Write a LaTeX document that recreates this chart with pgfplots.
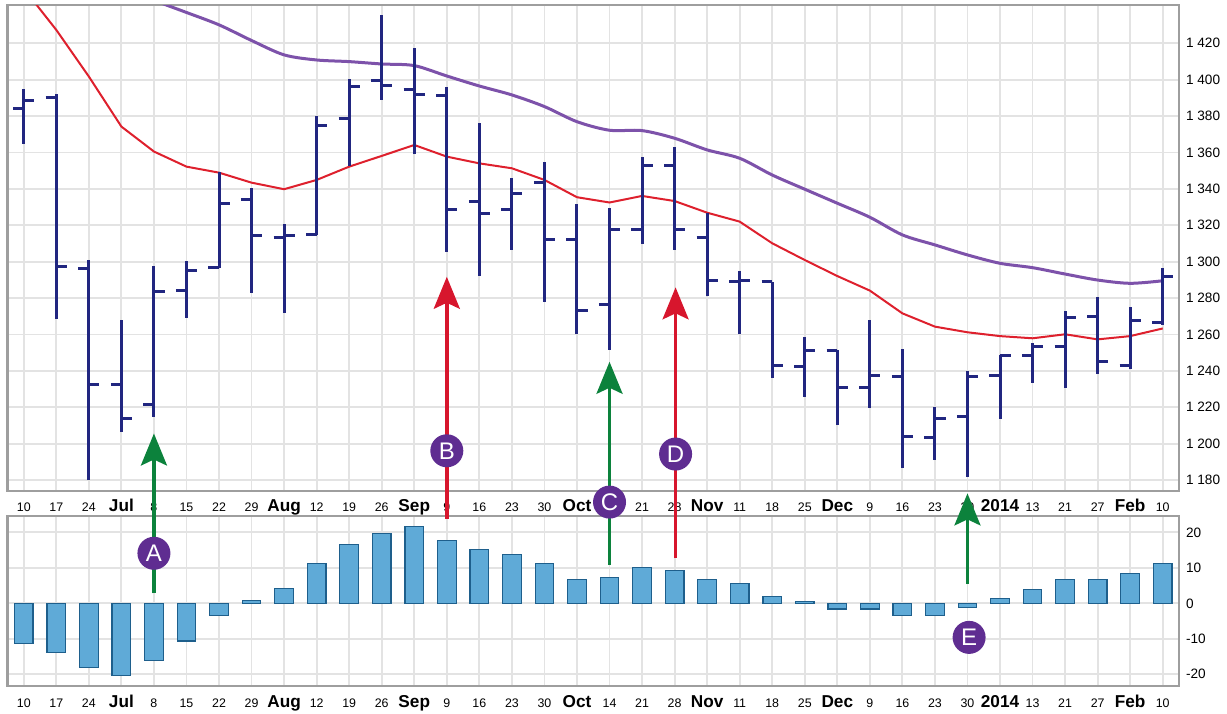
\documentclass[border=0pt]{standalone}
\usepackage{fontspec}
\setmainfont{Liberation Sans}
\usepackage{pgfplots}
\pgfplotsset{compat=1.18}
\usepackage{pgfplotstable}
\usetikzlibrary{arrows.meta}

\definecolor{ohlccol}{RGB}{33,38,128}
\definecolor{maredcol}{RGB}{222,32,45}
\definecolor{mapurcol}{RGB}{125,82,170}
\definecolor{histfill}{RGB}{95,170,215}
\definecolor{histedge}{RGB}{30,95,140}
\definecolor{arrgreen}{RGB}{12,130,60}
\definecolor{arrred}{RGB}{215,22,45}
\definecolor{circcol}{RGB}{95,45,145}

\pgfdeclareplotmark{opentick}{\pgfpathmoveto{\pgfqpoint{-5.3pt}{0pt}}\pgfpathlineto{\pgfqpoint{0pt}{0pt}}\pgfusepathqstroke}
\pgfdeclareplotmark{closetick}{\pgfpathmoveto{\pgfqpoint{0pt}{0pt}}\pgfpathlineto{\pgfqpoint{5.3pt}{0pt}}\pgfusepathqstroke}

\newcommand{\M}[1]{{\fontsize{8.6}{9}\selectfont\bfseries #1}}

\pgfplotstableread{
x o h l c
0 1383.9 1394.7 1364.7 1388.5
1 1390.1 1392.2 1268.3 1297.2
2 1296.1 1300.9 1180.0 1232.6
3 1232.6 1267.9 1206.6 1213.9
4 1221.8 1297.6 1214.8 1283.5
5 1284.0 1300.5 1268.8 1295.4
6 1296.7 1349.5 1296.3 1332.1
7 1333.9 1340.3 1282.6 1314.3
8 1313.4 1320.7 1272.0 1314.3
9 1314.7 1380.1 1314.7 1374.7
10 1378.4 1400.4 1352.8 1396.2
11 1399.3 1435.6 1388.9 1396.9
12 1394.7 1417.3 1359.2 1391.6
13 1391.2 1395.8 1305.1 1328.4
14 1333.3 1376.0 1292.1 1326.6
15 1328.4 1345.8 1306.4 1337.6
16 1343.6 1354.6 1278.0 1312.3
17 1312.3 1331.7 1260.1 1273.4
18 1276.5 1329.3 1251.4 1317.4
19 1317.4 1357.7 1309.7 1352.8
20 1352.8 1362.8 1306.4 1317.4
21 1313.4 1326.6 1281.1 1289.9
22 1289.0 1295.0 1260.2 1289.9
23 1289.0 1289.0 1235.9 1243.2
24 1242.3 1258.4 1225.4 1251.4
25 1251.4 1251.4 1210.2 1230.7
26 1230.7 1267.9 1219.4 1237.7
27 1237.1 1252.0 1186.4 1203.8
28 1203.4 1219.9 1191.0 1213.9
29 1214.8 1240.1 1181.8 1236.8
30 1237.7 1248.7 1213.3 1248.3
31 1248.7 1255.5 1233.5 1253.3
32 1253.3 1273.1 1230.7 1269.4
33 1270.1 1280.8 1238.2 1245.4
34 1243.2 1275.3 1240.8 1267.4
35 1266.6 1296.3 1265.2 1291.7
}\ohlc

\pgfplotstableread{
x ma
0 1450.0
1 1427.3
2 1401.7
3 1374.2
4 1360.5
5 1352.2
6 1348.9
7 1343.4
8 1339.8
9 1344.9
10 1352.2
11 1358.1
12 1364.1
13 1357.7
14 1354.0
15 1351.3
16 1344.9
17 1335.4
18 1332.5
19 1336.1
20 1333.3
21 1326.9
22 1322.0
23 1310.1
24 1300.9
25 1292.1
26 1284.1
27 1271.6
28 1264.3
29 1261.2
30 1259.1
31 1257.9
32 1260.1
33 1257.3
34 1259.1
35 1263.3
}\mared

\pgfplotstableread{
x ma
4 1443.5
5 1436.9
6 1430.1
7 1421.5
8 1413.6
9 1410.8
10 1409.9
11 1408.6
12 1407.7
13 1402.0
14 1396.5
15 1391.6
16 1385.2
17 1376.9
18 1372.2
19 1372.0
20 1367.8
21 1361.4
22 1356.8
23 1347.6
24 1339.8
25 1332.1
26 1324.4
27 1314.7
28 1309.2
29 1303.7
30 1299.1
31 1296.7
32 1293.2
33 1289.9
34 1288.1
35 1289.5
}\mapur

\pgfplotstableread{
x v
0 -11.3
1 -13.9
2 -18.0
3 -20.4
4 -16.0
5 -10.6
6 -3.5
7 0.8
8 4.2
9 11.2
10 16.5
11 19.7
12 21.6
13 17.8
14 15.1
15 13.8
16 11.2
17 6.8
18 7.3
19 10.2
20 9.2
21 6.8
22 5.5
23 1.9
24 0.6
25 -1.6
26 -1.6
27 -3.5
28 -3.5
29 -1.1
30 1.4
31 3.8
32 6.6
33 6.6
34 8.3
35 11.2
}\hist

\pgfplotsset{panel/.style={
  scale only axis, width=585.75pt, anchor=north west,
  xmin=-0.5, xmax=35.5,
  xtick={0,...,35},
  xticklabels={10,17,24,\M{Jul},8,15,22,29,\M{Aug},12,19,26,\M{Sep},9,16,23,30,\M{Oct},14,21,28,\M{Nov},11,18,25,\M{Dec},9,16,23,30,\M{2014},13,21,27,\M{Feb},10},
  grid=major, major grid style={draw=black!11, line width=0.9pt},
  axis line style={draw=black!38, line width=1.2pt},
  tick style={draw=none},
  yticklabel pos=right,
  xticklabel style={font=\fontsize{6.2}{7}\selectfont, anchor=base, yshift=-10pt, inner sep=0.5pt},
  yticklabel style={font=\fontsize{6.8}{7}\selectfont},
}}

\begin{document}
\begin{tikzpicture}
\begin{axis}[panel, at={(3.75pt,-2.5pt)}, height=243pt,
  ymin=1174, ymax=1441,
  ytick={1180,1200,...,1420},
  yticklabels={1 180,1 200,1 220,1 240,1 260,1 280,1 300,1 320,1 340,1 360,1 380,1 400,1 420}]
\addplot[maredcol, line width=1pt] table[x=x,y=ma]{\mared};
\addplot[mapurcol, line width=1.5pt, smooth] table[x=x,y=ma]{\mapur};
\addplot[ohlccol, only marks, mark=closetick, mark options={line width=1.5pt, ohlccol},
  error bars/.cd, y dir=both, y explicit, error mark=none,
  error bar style={line width=1.5pt, ohlccol}]
  table[x=x, y=c, y error plus expr=\thisrow{h}-\thisrow{c}, y error minus expr=\thisrow{c}-\thisrow{l}]{\ohlc};
\addplot[ohlccol, only marks, mark=opentick, mark options={line width=1.5pt, ohlccol}] table[x=x,y=o]{\ohlc};
\coordinate (Atip) at (axis cs:4,1205.6);
\coordinate (Btip) at (axis cs:13,1291.7);
\coordinate (Ctip) at (axis cs:18,1245.0);
\coordinate (Dtip) at (axis cs:20.03,1285.9);
\coordinate (Etip) at (axis cs:29,1172.7);
\coordinate (Bc) at (axis cs:13,1196.1);
\coordinate (Cc) at (axis cs:18,1167.9);
\coordinate (Dc) at (axis cs:20.03,1194.3);
\end{axis}
\begin{axis}[panel, at={(3.75pt,-258pt)}, height=85pt,
  ymin=-23.3, ymax=24.6,
  ytick={-20,-10,0,10,20},
  yticklabels={-20,-10,0,10,20},
  xticklabel style={yshift=3.5pt},
  ybar, bar width=9.3pt]
\addplot[fill=histfill, draw=histedge, line width=0.6pt] table[x=x,y=v]{\hist};
\coordinate (Abot) at (axis cs:4,2.8);
\coordinate (Bbot) at (axis cs:13,23.7);
\coordinate (Cbot) at (axis cs:18,10.8);
\coordinate (Dbot) at (axis cs:20.03,12.7);
\coordinate (Ebot) at (axis cs:29,5.4);
\coordinate (Ac) at (axis cs:4,14.1);
\coordinate (Ec) at (axis cs:29.05,-9.6);
\end{axis}
\tikzset{ann/.style={line width=1.7pt, -{Stealth[length=16pt, width=13pt, inset=3pt]}}}
\draw[ann, arrgreen] (Abot) -- (Atip);
\draw[ann, arrred] (Bbot) -- (Btip);
\draw[ann, arrgreen] (Cbot) -- (Ctip);
\draw[ann, arrred] (Dbot) -- (Dtip);
\draw[ann, arrgreen] (Ebot) -- (Etip);
\tikzset{lab/.style={circle, fill=circcol, text=white, minimum size=16.5pt, inner sep=0pt, font=\fontsize{12}{12}\selectfont}}
\node[lab] at (Ac) {A};
\node[lab] at (Bc) {B};
\node[lab] at (Cc) {C};
\node[lab] at (Dc) {D};
\node[lab] at (Ec) {E};
\pgfresetboundingbox
\useasboundingbox (0,0) rectangle (613.5pt,-356.5pt);
\end{tikzpicture}
\end{document}
